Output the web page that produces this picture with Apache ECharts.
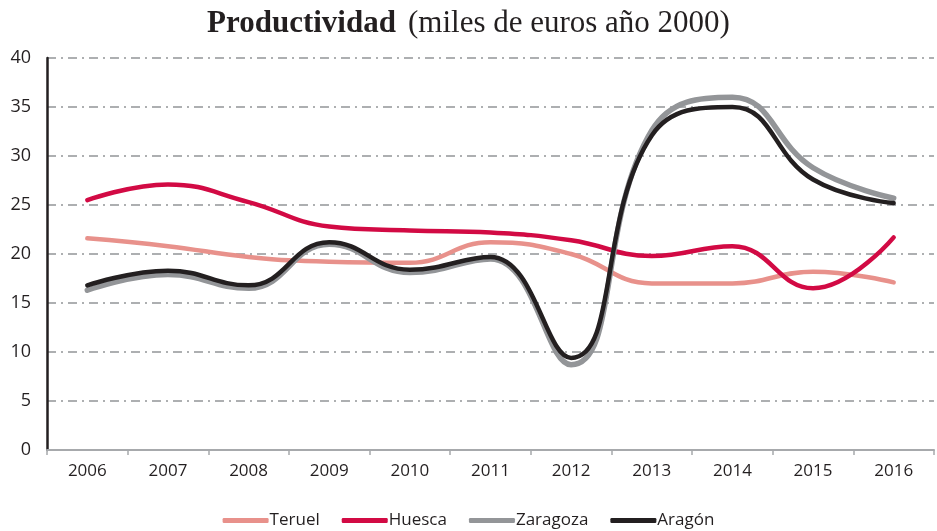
<!DOCTYPE html>
<html>
<head>
<meta charset="utf-8">
<style>
  html, body { margin: 0; padding: 0; background: #fff; }
  #chart { width: 937px; height: 531px; }
</style>
<script src="https://cdn.jsdelivr.net/npm/echarts@6/dist/echarts.min.js"></script>
</head>
<body>
<div id="chart"></div>
<script>
// Productivity by province, thousands of euros (base year 2000)
const years = ['2006', '2007', '2008', '2009', '2010', '2011', '2012', '2013', '2014', '2015', '2016'];
const teruel   = [21.6, 20.8, 19.7, 19.2, 19.1, 21.2, 20.0, 17.0, 17.0, 18.2, 17.1];
const huesca   = [25.5, 27.1, 25.3, 22.8, 22.4, 22.2, 21.4, 19.8, 20.8, 16.5, 21.7];
const zaragoza = [16.3, 17.9, 16.5, 21.0, 18.1, 19.5, 8.7, 32.6, 36.0, 28.8, 25.7];
const aragon   = [16.8, 18.3, 16.8, 21.2, 18.4, 19.7, 9.4, 32.1, 35.0, 27.6, 25.2];
const yTicks   = [0, 5, 10, 15, 20, 25, 30, 35, 40];

const chart = echarts.init(document.getElementById('chart'), null, { renderer: 'canvas' });

const labelFont = 'Open Sans';
const makeLine = (name, data, color, width) => ({
  name, type: 'line', data, smooth: 0.45, symbol: 'none',
  lineStyle: { color, width, cap: 'round', join: 'round' },
  itemStyle: { color }
});

chart.setOption({
  animation: false,
  title: {
    text: '{b|Productividad}{r|(miles de euros año 2000)}',
    left: 'center', top: 3,
    textStyle: {
      rich: {
        b: { fontFamily: 'Liberation Serif', fontWeight: 'bold', fontSize: 31, color: '#231f20' },
        r: { fontFamily: 'Liberation Serif', fontWeight: 'normal', fontSize: 31, color: '#231f20',
             padding: [0, 0, 0, 12] }
      }
    }
  },
  legend: {
    top: 507, left: 'center',
    itemWidth: 46, itemHeight: 5, itemGap: 22,
    icon: 'roundRect',
    textStyle: { fontFamily: labelFont, fontSize: 17, color: '#231f20', padding: [0, 0, 0, -4] },
    data: ['Teruel', 'Huesca', 'Zaragoza', 'Aragón']
  },
  grid: { left: 47, right: 3, top: 58, bottom: 81 },
  xAxis: {
    type: 'category', data: years, boundaryGap: true,
    axisLine: { lineStyle: { color: '#a7a9ac', width: 2 } },
    axisTick: { show: true, lineStyle: { color: '#a7a9ac', width: 1.5 }, length: 5 },
    axisLabel: { fontFamily: labelFont, fontSize: 17, color: '#231f20', margin: 13 },
    splitLine: { show: false }
  },
  yAxis: {
    type: 'value', min: yTicks[0], max: yTicks[yTicks.length - 1], interval: 5,
    axisLine: { show: true, lineStyle: { color: '#231f20', width: 2.5 } },
    axisTick: { show: false },
    axisLabel: { fontFamily: labelFont, fontSize: 18, color: '#231f20', margin: 16 },
    splitLine: { show: true, lineStyle: { color: '#939598', width: 1.5, type: [9, 5, 2, 5] } }
  },
  series: [
    makeLine('Teruel', teruel, '#e8918b', 4.5),
    makeLine('Huesca', huesca, '#d20a44', 4.5),
    makeLine('Zaragoza', zaragoza, '#939598', 5.5),
    makeLine('Aragón', aragon, '#231f20', 4.5)
  ]
});
</script>
</body>
</html>
